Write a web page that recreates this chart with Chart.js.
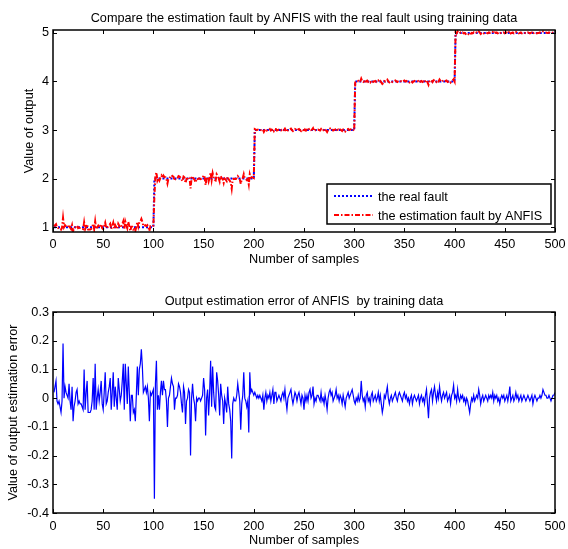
<!DOCTYPE html>
<html lang="en">
<head>
  <meta charset="UTF-8">
  <title>ANFIS - fault estimation</title>
  <script src="https://cdn.jsdelivr.net/npm/chart.js"></script>
  <style>
    html, body { margin: 0; padding: 0; background: #fff; }
    #graficoFalha { position: absolute; left: 0; top: 0; }
    #graficoErro { position: absolute; left: 0; top: 275px; }
  </style>
</head>
<body>
  <canvas id="graficoFalha" width="568" height="275"></canvas>
  <canvas id="graficoErro" width="568" height="274"></canvas>

  <script>
    const xTicks = [0, 50, 100, 150, 200, 250, 300, 350, 400, 450, 500];
    const yTicksFault = [1, 2, 3, 4, 5];
    const yTicksError = [-0.4, -0.3, -0.2, -0.1, 0, 0.1, 0.2, 0.3];

    // real fault level, one level for every block of 100 samples
    const faultLevels = [1, 2, 3, 4, 5];
    const samplesPerLevel = 100;

    // estimation error (estimate - real)
    const estimationError = [
      0.02, 0.04, 0.06, -0.01, -0.02, -0.01, -0.03, -0.05, -0.01, 0.19,
      0.00, 0.04, 0.02, 0.01, 0.00, 0.05, -0.01, -0.04, 0.04, -0.08,
      -0.03, -0.01, 0.02, 0.03, -0.02, -0.01, -0.02, -0.02, -0.03, -0.04,
      0.10, -0.04, 0.02, 0.06, -0.05, -0.05, -0.05, -0.04, -0.01, 0.07,
      -0.04, 0.12, -0.04, 0.00, 0.03, -0.01, 0.02, 0.06, -0.02, -0.04,
      0.02, 0.09, -0.02, -0.01, 0.02, 0.04, 0.07, -0.04, 0.02, 0.09,
      -0.03, 0.04, 0.00, -0.04, 0.07, 0.03, -0.01, 0.01, 0.06, 0.12,
      -0.04, 0.12, 0.05, -0.02, 0.11, 0.02, -0.08, 0.01, 0.01, -0.05,
      -0.04, -0.08, 0.01, 0.11, 0.01, 0.10, 0.12, 0.17, 0.11, 0.02,
      0.03, 0.04, 0.02, 0.04, 0.00, -0.08, 0.02, 0.01, 0.02, 0.03,
      -0.35, 0.05, 0.13, -0.04, 0.01, -0.04, 0.02, 0.06, 0.01, 0.06,
      0.03, 0.03, -0.01, -0.10, 0.00, 0.01, 0.04, 0.07, 0.05, 0.04,
      -0.04, 0.00, 0.00, 0.01, 0.05, 0.04, 0.02, -0.02, -0.05, 0.04,
      0.02, -0.09, -0.01, 0.00, 0.03, 0.02, -0.20, 0.00, 0.05, 0.00,
      -0.02, -0.08, 0.00, -0.01, 0.00, 0.00, -0.01, 0.00, 0.01, 0.07,
      0.03, -0.13, 0.00, 0.03, -0.06, 0.02, 0.13, -0.03, 0.11, 0.02,
      -0.03, -0.04, 0.09, 0.06, 0.01, -0.06, 0.05, 0.01, -0.01, -0.09,
      0.00, -0.02, -0.05, 0.04, -0.02, -0.04, -0.08, -0.21, -0.02, 0.00,
      -0.01, -0.01, 0.01, 0.05, 0.02, -0.01, -0.11, -0.02, 0.01, 0.09,
      0.00, -0.01, -0.03, -0.01, -0.12, 0.09, 0.02, 0.03, 0.02, 0.01,
      0.02, 0.01, 0.00, 0.01, 0.00, 0.01, 0.00, -0.01, 0.01, -0.04,
      0.00, 0.02, -0.01, 0.01, 0.00, 0.02, -0.01, 0.01, 0.03, -0.02,
      0.02, 0.02, -0.01, 0.00, 0.01, 0.00, -0.01, 0.01, 0.02, 0.00,
      0.03, -0.01, -0.04, 0.00, 0.01, 0.02, 0.03, 0.00, -0.02, 0.00,
      0.02, 0.01, -0.01, 0.01, 0.02, 0.00, -0.02, 0.01, 0.00, -0.04,
      0.01, -0.01, 0.01, -0.01, 0.02, 0.03, 0.00, 0.01, 0.04, -0.02,
      0.00, -0.01, 0.01, 0.01, 0.00, -0.01, 0.02, -0.01, 0.00, -0.02,
      0.01, -0.01, -0.04, 0.00, 0.02, 0.03, 0.01, 0.02, -0.01, 0.00,
      0.01, 0.03, 0.00, 0.01, -0.01, 0.01, 0.00, -0.02, 0.01, -0.01,
      -0.03, 0.00, 0.01, 0.02, 0.00, 0.01, 0.02, 0.03, 0.01, -0.01,
      -0.02, 0.00, -0.01, 0.01, -0.01, 0.00, 0.06, 0.01, -0.01, 0.00,
      -0.03, 0.01, 0.02, -0.01, 0.00, -0.02, 0.01, 0.02, -0.01, 0.00,
      0.01, -0.01, 0.00, 0.02, -0.01, 0.01, -0.02, -0.05, -0.03, 0.01,
      0.00, 0.02, 0.04, 0.00, -0.02, 0.00, 0.01, -0.01, 0.00, 0.01,
      0.02, 0.00, -0.01, 0.01, 0.02, 0.01, 0.00, -0.01, 0.01, 0.02,
      0.00, 0.01, -0.01, 0.00, -0.02, 0.00, 0.01, -0.02, 0.00, 0.01,
      0.00, -0.01, 0.00, 0.01, -0.02, 0.00, 0.01, -0.01, 0.00, -0.02,
      0.01, 0.03, -0.02, -0.07, 0.00, 0.02, 0.03, -0.01, 0.02, 0.04,
      0.01, -0.01, 0.02, 0.00, 0.04, 0.01, -0.01, 0.01, 0.02, 0.00,
      0.01, 0.02, -0.01, 0.00, 0.01, -0.02, 0.01, 0.02, 0.045, 0.00,
      0.01, -0.01, 0.03, 0.00, -0.01, 0.01, 0.00, 0.01, -0.01, 0.00,
      -0.02, 0.00, -0.01, -0.03, -0.05, -0.02, 0.00, -0.01, 0.01, -0.01,
      0.00, 0.01, 0.00, 0.03, 0.01, -0.02, 0.00, 0.01, -0.01, 0.00,
      0.01, 0.00, -0.01, 0.01, 0.00, 0.01, 0.00, 0.02, -0.01, 0.01,
      0.00, 0.01, -0.01, 0.00, -0.02, 0.00, 0.01, 0.00, 0.01, -0.01,
      0.00, 0.01, -0.01, 0.01, 0.04, -0.01, 0.00, 0.01, -0.01, 0.00,
      0.02, 0.00, 0.01, -0.01, 0.00, 0.01, -0.01, 0.00, 0.01, 0.00,
      -0.01, 0.00, 0.01, 0.00, -0.01, 0.00, 0.01, -0.02, 0.00, 0.01,
      0.00, -0.01, 0.00, 0.00, 0.01, 0.00, 0.01, 0.03, 0.02, 0.01,
      0.01, 0.00, 0.00, 0.01, 0.00, -0.01, 0.00, 0.01, 0.01, 0.02
    ];

    const samples = estimationError.map((_, i) => i + 1);
    const realFault = samples.map(n => faultLevels[Math.ceil(n / samplesPerLevel) - 1]);
    const estimatedFault = realFault.map((v, i) => +(v + estimationError[i]).toFixed(3));
    const pontos = ys => ys.map((v, i) => ({ x: samples[i], y: v }));

    Chart.defaults.font.family = '"Liberation Sans", Arial, sans-serif';
    Chart.defaults.font.size = 12.7;
    Chart.defaults.color = '#000';

    // MATLAB style box, inward ticks on all four sides, optional legend box
    const moldura = {
      id: 'moldura',
      afterDraw(chart, args, opts) {
        const { ctx, chartArea: a, scales: { x, y } } = chart;
        ctx.save();
        ctx.strokeStyle = '#000';
        ctx.lineWidth = 1;
        ctx.beginPath();
        x.ticks.forEach(t => {
          const px = Math.round(x.getPixelForValue(t.value)) + 0.5;
          ctx.moveTo(px, a.bottom); ctx.lineTo(px, a.bottom - 4);
          ctx.moveTo(px, a.top); ctx.lineTo(px, a.top + 4);
        });
        y.ticks.forEach(t => {
          const py = Math.round(y.getPixelForValue(t.value)) + 0.5;
          ctx.moveTo(a.left, py); ctx.lineTo(a.left + 4, py);
          ctx.moveTo(a.right, py); ctx.lineTo(a.right - 4, py);
        });
        ctx.stroke();
        ctx.lineWidth = 1.5;
        ctx.strokeRect(a.left, a.top, a.right - a.left, a.bottom - a.top);

        const lg = opts.legenda;
        if (lg) {
          ctx.fillStyle = '#fff';
          ctx.fillRect(lg.x, lg.y, lg.w, lg.h);
          ctx.strokeRect(lg.x, lg.y, lg.w, lg.h);
          ctx.font = '12.7px "Liberation Sans", Arial, sans-serif';
          ctx.textBaseline = 'middle';
          chart.data.datasets.forEach((ds, i) => {
            const ly = lg.y + 12 + i * 19;
            ctx.strokeStyle = ds.borderColor;
            ctx.lineWidth = ds.borderWidth;
            ctx.setLineDash(ds.borderDash || []);
            ctx.beginPath();
            ctx.moveTo(lg.x + 7, ly);
            ctx.lineTo(lg.x + 46, ly);
            ctx.stroke();
            ctx.setLineDash([]);
            ctx.fillStyle = '#000';
            ctx.fillText(ds.label, lg.x + 51, ly + 1);
          });
        }
        ctx.restore();
      }
    };

    function eixoX(altura, pad, tituloPad) {
      return {
        type: 'linear', min: 0, max: 500,
        afterBuildTicks: s => { s.ticks = xTicks.map(v => ({ value: v })); },
        afterFit: s => { s.height = altura; s.paddingLeft = 0; s.paddingRight = 0; },
        grid: { display: false, drawTicks: false },
        border: { display: false },
        ticks: { padding: pad, autoSkip: false, maxRotation: 0, callback: v => String(v) },
        title: { display: true, text: 'Number of samples', padding: { top: 0, bottom: tituloPad } }
      };
    }

    function eixoY(min, max, marcas, texto, tituloPad) {
      return {
        min: min, max: max,
        afterBuildTicks: s => { s.ticks = marcas.map(v => ({ value: v })); },
        afterFit: s => { s.width = 53; s.paddingTop = 0; s.paddingBottom = 0; },
        grid: { display: false, drawTicks: false },
        border: { display: false },
        ticks: { padding: 4, callback: v => String(v) },
        title: { display: true, text: texto, padding: { top: tituloPad, bottom: 0 } }
      };
    }

    const graficoFalha = new Chart(document.getElementById('graficoFalha'), {
      type: 'line',
      data: {
        datasets: [
          {
            label: 'the real fault', data: pontos(realFault), order: 1,
            borderColor: '#0000ff', borderWidth: 2, borderDash: [2, 2],
            pointRadius: 0, tension: 0, fill: false
          },
          {
            label: 'the estimation fault by ANFIS', data: pontos(estimatedFault), order: 0,
            borderColor: '#ff0000', borderWidth: 2, borderDash: [5, 2, 1.5, 2],
            pointRadius: 0, tension: 0, fill: false
          }
        ]
      },
      options: {
        responsive: false, animation: false,
        layout: { padding: { left: 0, right: 13, top: 0, bottom: 0 } },
        scales: {
          x: eixoX(43, 4.4, 7.4),
          y: eixoY(0.9, 5.06, yTicksFault, 'Value of output', 21.4)
        },
        plugins: {
          legend: { display: false },
          tooltip: { enabled: false },
          title: {
            display: true, fullSize: false, color: '#000', font: { size: 12.7, weight: 'normal' },
            text: 'Compare the estimation fault by ANFIS with the real fault using training data',
            padding: { top: 10.9, bottom: 3.86 }
          },
          moldura: { legenda: { x: 327, y: 184, w: 224, h: 40 } }
        }
      },
      plugins: [moldura]
    });

    const graficoErro = new Chart(document.getElementById('graficoErro'), {
      type: 'line',
      data: {
        datasets: [{
          label: 'estimation error', data: pontos(estimationError),
          borderColor: '#0000ff', borderWidth: 1.2,
          pointRadius: 0, tension: 0, fill: false
        }]
      },
      options: {
        responsive: false, animation: false,
        layout: { padding: { left: 0, right: 13, top: 0, bottom: 0 } },
        scales: {
          x: eixoX(36, 5.4, 0.4),
          y: eixoY(-0.4, 0.3, yTicksError, 'Value of output estimation error', 5.9)
        },
        plugins: {
          legend: { display: false },
          tooltip: { enabled: false },
          title: {
            display: true, fullSize: false, color: '#000', font: { size: 12.7, weight: 'normal' },
            text: 'Output estimation error of ANFIS  by training data',
            padding: { top: 18.4, bottom: 3.36 }
          },
          moldura: {}
        }
      },
      plugins: [moldura]
    });
  </script>
</body>
</html>
